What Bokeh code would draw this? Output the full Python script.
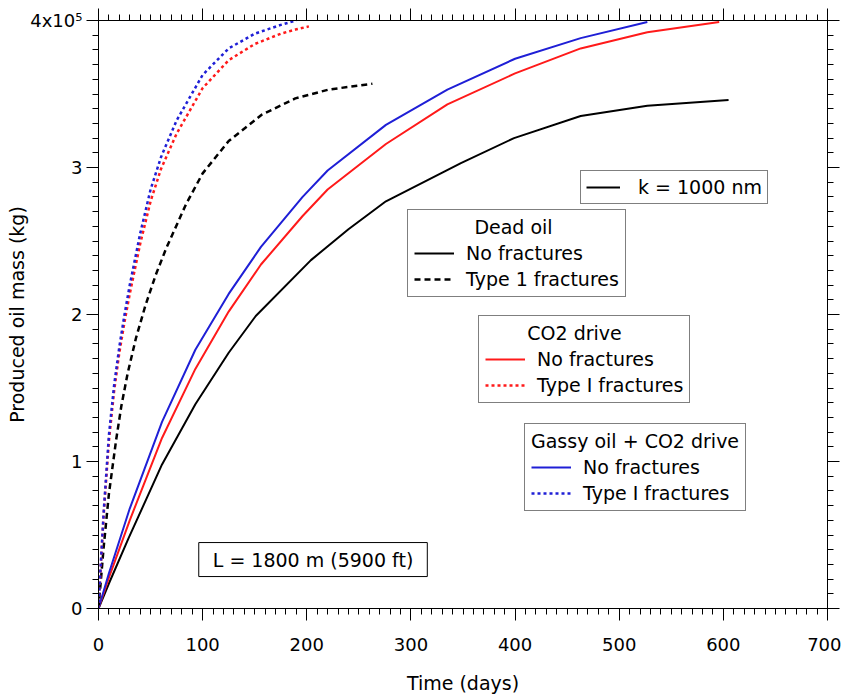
from bokeh.plotting import figure
from bokeh.models import (Range1d, LinearAxis, SingleIntervalTicker, Legend,
                          LegendItem, Label, Title)
from bokeh.embed import file_html
from bokeh.resources import INLINE

FONT = "DejaVu Sans"

# ---- data (produced oil mass in units of 1e5 kg) ----
dead_nofrac_days = [0, 10, 29, 61, 93, 125, 151, 204, 240, 276, 348, 399, 463, 527, 605]
dead_nofrac_mass = [0, 0.17, 0.48, 0.98, 1.39, 1.74, 1.99, 2.37, 2.58, 2.77, 3.03, 3.20, 3.35, 3.42, 3.46]

dead_frac_days = [0, 5, 10, 17, 22, 28, 36, 45, 55, 65, 84, 100, 125, 157, 189, 221, 263]
dead_frac_mass = [0, 0.42, 0.78, 1.15, 1.38, 1.60, 1.84, 2.06, 2.27, 2.45, 2.75, 2.96, 3.18, 3.36, 3.47, 3.53, 3.57]

co2_nofrac_days = [0, 10, 30, 61, 93, 125, 156, 196, 220, 276, 335, 400, 463, 527, 596]
co2_nofrac_mass = [0, 0.21, 0.60, 1.16, 1.63, 2.02, 2.34, 2.67, 2.85, 3.16, 3.43, 3.64, 3.81, 3.92, 3.99]

co2_frac_days = [0, 2, 5, 10, 15, 20, 25, 30, 40, 50, 60, 75, 100, 125, 150, 175, 190, 202]
co2_frac_mass = [0, 0.26, 0.64, 1.14, 1.48, 1.74, 1.95, 2.14, 2.48, 2.77, 2.99, 3.23, 3.54, 3.73, 3.84, 3.91, 3.94, 3.96]

gassy_nofrac_days = [0, 10, 30, 61, 93, 125, 156, 196, 220, 276, 335, 400, 463, 527]
gassy_nofrac_mass = [0, 0.24, 0.68, 1.27, 1.76, 2.14, 2.46, 2.80, 2.98, 3.29, 3.53, 3.74, 3.88, 3.99]

gassy_frac_days = [0, 2, 5, 10, 15, 20, 25, 30, 40, 50, 60, 75, 100, 125, 150, 175, 190]
gassy_frac_mass = [0, 0.28, 0.66, 1.18, 1.52, 1.78, 2.00, 2.20, 2.55, 2.85, 3.07, 3.32, 3.63, 3.81, 3.91, 3.97, 4.00]

y_tick_labels = {0: "0", 1: "1", 2: "2", 3: "3", 4: "4x10\u2075"}

BLACK = "#000000"
RED = "#ff1a1a"
BLUE = "#1f1fd6"

p = figure(width=841, height=698, output_backend="svg", toolbar_location=None,
           x_range=Range1d(0, 700), y_range=Range1d(0, 4),
           x_axis_type=None, y_axis_type=None,
           min_border_left=98, min_border_right=14, min_border_top=20,
           min_border_bottom=90)
p.outline_line_color = "black"
p.outline_line_width = 1
p.background_fill_color = "white"
p.border_fill_color = "white"


def style_axis(ax, labels=True):
    ax.axis_line_color = "black"
    ax.major_tick_line_color = "black"
    ax.minor_tick_line_color = "black"
    ax.major_tick_out = 12
    ax.major_tick_in = 0
    ax.minor_tick_out = 6
    ax.minor_tick_in = 0
    ax.major_label_text_font = FONT
    ax.axis_label_text_font = FONT
    ax.axis_label_text_font_style = "normal"
    ax.axis_label_text_font_size = "19px"
    ax.axis_label_text_color = "black"
    if labels:
        ax.major_label_text_font_size = "18px"
        ax.major_label_text_color = "black"
    else:
        # mirrored tick marks only: labels are not painted
        ax.major_label_text_font_size = "1px"
        ax.major_label_text_color = None
        ax.major_label_standoff = 0


bottom = LinearAxis(ticker=SingleIntervalTicker(interval=100, num_minor_ticks=10),
                    axis_label="Time (days)")
style_axis(bottom)
bottom.major_label_standoff = 17
bottom.axis_label_standoff = 18
p.add_layout(bottom, "below")

left = LinearAxis(ticker=SingleIntervalTicker(interval=1, num_minor_ticks=10),
                  major_label_overrides=y_tick_labels)
style_axis(left)
left.major_label_standoff = 4
p.add_layout(left, "left")

# y axis title, placed in the left panel outside the tick labels
p.add_layout(Title(text="Produced oil mass (kg)", align="center",
                   text_font=FONT, text_font_size="19px",
                   text_font_style="normal", text_color="black",
                   standoff=0), "left")

top = LinearAxis(ticker=SingleIntervalTicker(interval=100, num_minor_ticks=10))
style_axis(top, labels=False)
p.add_layout(top, "above")

right = LinearAxis(ticker=SingleIntervalTicker(interval=1, num_minor_ticks=10))
style_axis(right, labels=False)
p.add_layout(right, "right")

r_dead_nf = p.line(dead_nofrac_days, dead_nofrac_mass, line_color=BLACK, line_width=2)
r_co2_nf = p.line(co2_nofrac_days, co2_nofrac_mass, line_color=RED, line_width=2)
r_gas_nf = p.line(gassy_nofrac_days, gassy_nofrac_mass, line_color=BLUE, line_width=2)
r_dead_f = p.line(dead_frac_days, dead_frac_mass, line_color=BLACK, line_width=2.5,
                  line_dash="6 4")
r_co2_f = p.line(co2_frac_days, co2_frac_mass, line_color=RED, line_width=2.5,
                 line_dash="3 3")
r_gas_f = p.line(gassy_frac_days, gassy_frac_mass, line_color=BLUE, line_width=2.5,
                 line_dash="3 3")

NB = "\u00a0"


def make_legend(items, location, title=None, padding=6, glyph_width=40, standoff=12):
    kw = {}
    if title is not None:
        kw["title"] = title
    leg = Legend(items=items, location=location, orientation="vertical",
                 border_line_color="black", border_line_width=1,
                 background_fill_color="white", background_fill_alpha=1,
                 label_text_font=FONT, label_text_font_size="19px",
                 label_text_color="black",
                 title_text_font=FONT, title_text_font_size="19px",
                 title_text_font_style="normal", title_text_color="black",
                 glyph_width=glyph_width, glyph_height=20, label_height=20,
                 spacing=4, padding=padding, title_standoff=4,
                 label_standoff=standoff, margin=0, **kw)
    p.add_layout(leg, "center")
    return leg


make_legend([LegendItem(label="k = 1000 nm", renderers=[r_dead_nf])], (482, 404),
            padding=5, glyph_width=34, standoff=18)
make_legend([LegendItem(label="No fractures", renderers=[r_dead_nf]),
             LegendItem(label="Type 1 fractures", renderers=[r_dead_f])],
            (309, 311), title=NB * 10 + "Dead oil")
make_legend([LegendItem(label="No fractures", renderers=[r_co2_nf]),
             LegendItem(label="Type I fractures", renderers=[r_co2_f])],
            (380, 205), title=NB * 7 + "CO2 drive")
make_legend([LegendItem(label="No fractures", renderers=[r_gas_nf]),
             LegendItem(label="Type I fractures", renderers=[r_gas_f])],
            (426, 97), title="Gassy oil + CO2 drive")

p.add_layout(Label(x=206, y=0.333, text="L = 1800 m (5900 ft)",
                   text_align="center", text_baseline="middle",
                   text_font=FONT, text_font_size="19px", text_color="black",
                   border_line_color="black", border_line_width=1,
                   background_fill_color="white",
                   padding=dict(left=14, right=14, top=6, bottom=6)))

open("out.html", "w").write(file_html(p, INLINE))
